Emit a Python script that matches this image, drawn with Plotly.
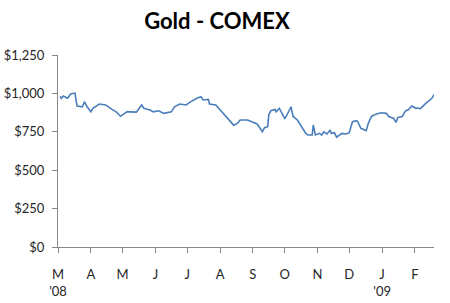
import plotly.graph_objects as go

dates = [
    "2008-03-03", "2008-03-04", "2008-03-06", "2008-03-10", "2008-03-13", "2008-03-17",
    "2008-03-19", "2008-03-24", "2008-03-26", "2008-03-28", "2008-04-01", "2008-04-03",
    "2008-04-09", "2008-04-15", "2008-04-21", "2008-04-25", "2008-04-29", "2008-05-05",
    "2008-05-08", "2008-05-14", "2008-05-19", "2008-05-21", "2008-05-27", "2008-05-30",
    "2008-06-04", "2008-06-09", "2008-06-16", "2008-06-19", "2008-06-24", "2008-06-30",
    "2008-07-03", "2008-07-10", "2008-07-14", "2008-07-16", "2008-07-21", "2008-07-22",
    "2008-07-28", "2008-08-01", "2008-08-06", "2008-08-11", "2008-08-14", "2008-08-18",
    "2008-08-20", "2008-08-27", "2008-08-29", "2008-09-02", "2008-09-05", "2008-09-10",
    "2008-09-12", "2008-09-15", "2008-09-16", "2008-09-18", "2008-09-22", "2008-09-23",
    "2008-09-26", "2008-10-01", "2008-10-02", "2008-10-07", "2008-10-09", "2008-10-13",
    "2008-10-15", "2008-10-17", "2008-10-21", "2008-10-23", "2008-10-27", "2008-10-28",
    "2008-10-30", "2008-11-03", "2008-11-05", "2008-11-07", "2008-11-10", "2008-11-13",
    "2008-11-14", "2008-11-17", "2008-11-19", "2008-11-24", "2008-11-28", "2008-12-01",
    "2008-12-04", "2008-12-08", "2008-12-09", "2008-12-12", "2008-12-15", "2008-12-17",
    "2008-12-19", "2008-12-22", "2008-12-26", "2008-12-31", "2009-01-05", "2009-01-07",
    "2009-01-12", "2009-01-14", "2009-01-16", "2009-01-20", "2009-01-23", "2009-01-26",
    "2009-01-29", "2009-02-02", "2009-02-04", "2009-02-06", "2009-02-11", "2009-02-13",
    "2009-02-17", "2009-02-19",
]
prices = [
    980, 968, 983, 968, 996, 1002,
    918, 913, 946, 918, 880, 903,
    931, 925, 896, 880, 851, 880,
    880, 878, 925, 903, 892, 880,
    887, 870, 880, 913, 931, 925,
    940, 968, 978, 957, 961, 931,
    925, 892, 851, 816, 792, 809,
    827, 827, 822, 809, 801, 750,
    777, 783, 861, 887, 896, 880,
    903, 837, 844, 913, 850, 827,
    805, 783, 740, 729, 729, 794,
    729, 740, 729, 750, 736, 762,
    740, 744, 715, 740, 736, 744,
    816, 822, 816, 773, 766, 757,
    805, 850, 865, 874, 870, 851,
    837, 811, 844, 850, 885, 895,
    918, 903, 905, 899, 933, 946,
    968, 992,
]

tick_dates = ["2008-03-01", "2008-04-01", "2008-05-01", "2008-06-01", "2008-07-01",
              "2008-08-01", "2008-09-01", "2008-10-01", "2008-11-01", "2008-12-01",
              "2009-01-01", "2009-02-01"]
tick_labels = ["M<br>'08", "A", "M", "J", "J", "A", "S", "O", "N", "D", "J<br>'09", "F"]
y_ticks = [0, 250, 500, 750, 1000, 1250]
y_labels = ["$0", "$250", "$500", "$750", "$1,000", "$1,250"]

fig = go.Figure(go.Scatter(
    x=dates, y=prices, mode="lines",
    line=dict(color="#4A7EBB", width=1.6),
))

fig.update_layout(
    width=450, height=303,
    margin=dict(l=58, r=16, t=55, b=56),
    paper_bgcolor="white", plot_bgcolor="white",
    showlegend=False,
    font=dict(family="Lato, 'Open Sans', sans-serif", size=13, color="#262626"),
    title=dict(text="<b>Gold - COMEX</b>", x=0.482, xanchor="center",
               y=1 - 21 / 303, yanchor="middle",
               font=dict(family="Lato, 'Open Sans', sans-serif", size=22, color="black")),
)
fig.update_xaxes(
    type="date", range=["2008-03-01", "2009-02-19"],
    tickmode="array", tickvals=tick_dates, ticktext=tick_labels,
    showgrid=False, zeroline=False, showline=True, linecolor="#868686", linewidth=1,
    ticks="outside", ticklen=5, tickcolor="#868686", ticklabelstandoff=10,
    tickfont=dict(size=13, color="#262626"), automargin=False,
)
fig.update_yaxes(
    range=[0, 1250], tickmode="array", tickvals=y_ticks, ticktext=y_labels,
    showgrid=False, zeroline=False, showline=True, linecolor="#868686", linewidth=1,
    ticks="outside", ticklen=5, tickcolor="#868686", ticklabelstandoff=5,
    tickfont=dict(size=13, color="#262626"), automargin=False,
)

fig.write_html("out.html")
